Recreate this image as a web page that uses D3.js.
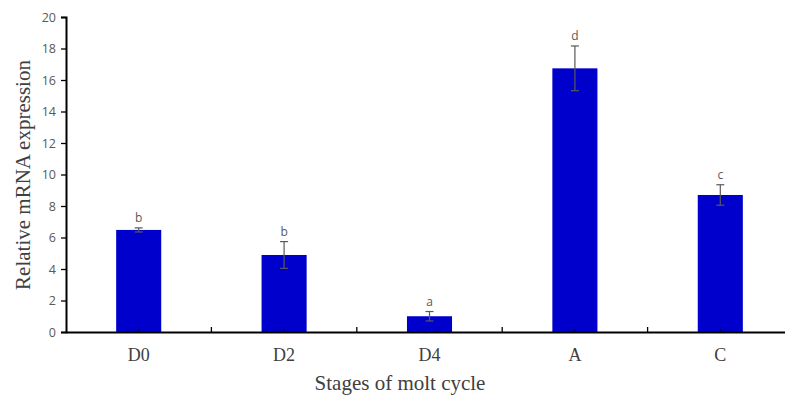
<!DOCTYPE html>
<html>
<head>
<meta charset="utf-8">
<script src="https://cdn.jsdelivr.net/npm/d3@7"></script>
<style>
  body { margin: 0; background: #fff; }
</style>
</head>
<body>
<div id="chart"></div>
<script>
const stages = ["D0", "D2", "D4", "A", "C"];
const expression = [6.48, 4.89, 1.0, 16.74, 8.70];
const errors = [0.13, 0.85, 0.3, 1.42, 0.65];
const letters = ["b", "b", "a", "d", "c"];
const yTicks = [0, 2, 4, 6, 8, 10, 12, 14, 16, 18, 20];

const width = 785, height = 397;
const margin = { top: 17, right: -8, bottom: 65, left: 66 };

const svg = d3.select("#chart").append("svg")
    .attr("width", width)
    .attr("height", height);

const x = d3.scaleBand()
    .domain(stages)
    .range([margin.left, width - margin.right])
    .paddingInner(0)
    .paddingOuter(0);

const y = d3.scaleLinear()
    .domain([0, 20])
    .range([height - margin.bottom, margin.top]);

const barW = x.bandwidth() * 0.31;
const cx = d => x(d) + x.bandwidth() / 2;

// bars
svg.append("g")
    .selectAll("rect")
    .data(stages)
    .enter()
    .append("rect")
    .attr("x", d => cx(d) - barW / 2)
    .attr("y", (d, i) => y(expression[i]))
    .attr("width", barW)
    .attr("height", (d, i) => y(0) - y(expression[i]))
    .attr("fill", "#0000cc");

// y axis
const yAxis = svg.append("g")
    .attr("transform", `translate(${margin.left},0)`)
    .call(d3.axisLeft(y).tickValues(yTicks).tickSize(5).tickPadding(5));
yAxis.select(".domain").attr("stroke", "#000").attr("stroke-width", 2);
yAxis.selectAll(".tick line").attr("stroke", "#000").attr("stroke-width", 1.3);
yAxis.selectAll("text")
    .style("font-family", "'Open Sans', 'Liberation Sans', sans-serif")
    .style("font-size", "12.5px")
    .attr("fill", "#595959");

// x axis
const xAxis = svg.append("g")
    .attr("transform", `translate(0,${y(0)})`)
    .call(d3.axisBottom(x).tickSize(0).tickPadding(16).tickSizeOuter(0));
xAxis.select(".domain").attr("stroke", "#000").attr("stroke-width", 2);
xAxis.selectAll("text")
    .style("font-family", "'Liberation Serif', 'Times New Roman', serif")
    .style("font-size", "18px")
    .attr("fill", "#404040");

// small tick marks on the x axis: between categories and at bar centres
stages.forEach((s, i) => {
    if (i > 0) {
        svg.append("line")
            .attr("x1", x(s)).attr("x2", x(s))
            .attr("y1", y(0) - 5).attr("y2", y(0))
            .attr("stroke", "#000")
            .attr("stroke-width", 1.3);
    }
    svg.append("line")
        .attr("x1", cx(s)).attr("x2", cx(s))
        .attr("y1", y(0) - 3).attr("y2", y(0))
        .attr("stroke", "#000");
});

// error bars
const err = svg.append("g")
    .selectAll("g")
    .data(stages)
    .enter()
    .append("g")
    .attr("stroke", "#595959")
    .attr("stroke-width", 1.2);

err.append("line")
    .attr("x1", cx).attr("x2", cx)
    .attr("y1", (d, i) => y(expression[i] - errors[i]))
    .attr("y2", (d, i) => y(expression[i] + errors[i]));
err.append("line")
    .attr("x1", d => cx(d) - 4).attr("x2", d => cx(d) + 4)
    .attr("y1", (d, i) => y(expression[i] - errors[i]))
    .attr("y2", (d, i) => y(expression[i] - errors[i]));
err.append("line")
    .attr("x1", d => cx(d) - 4).attr("x2", d => cx(d) + 4)
    .attr("y1", (d, i) => y(expression[i] + errors[i]))
    .attr("y2", (d, i) => y(expression[i] + errors[i]));

// significance letters
svg.append("g")
    .selectAll("text")
    .data(stages)
    .enter()
    .append("text")
    .attr("x", cx)
    .attr("y", (d, i) => y(expression[i] + errors[i]) - 6)
    .attr("text-anchor", "middle")
    .style("font-family", "'Open Sans', 'Liberation Sans', sans-serif")
    .style("font-size", "12px")
    .attr("fill", "#595959")
    .text((d, i) => letters[i]);

// axis titles
svg.append("text")
    .attr("x", 400)
    .attr("y", 390)
    .attr("text-anchor", "middle")
    .style("font-family", "'Liberation Serif', 'Times New Roman', serif")
    .style("font-size", "21px")
    .attr("fill", "#404040")
    .text("Stages of molt cycle");

svg.append("text")
    .attr("transform", `translate(30,175) rotate(-90)`)
    .attr("text-anchor", "middle")
    .style("font-family", "'Liberation Serif', 'Times New Roman', serif")
    .style("font-size", "21px")
    .attr("fill", "#404040")
    .text("Relative mRNA expression");
</script>
</body>
</html>
